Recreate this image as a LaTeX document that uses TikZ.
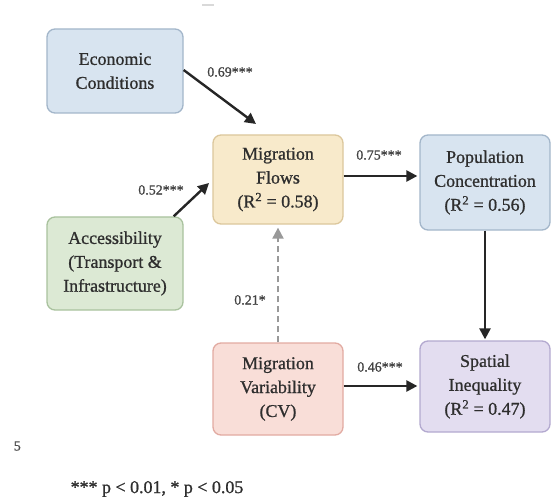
\documentclass[tikz,border=0pt]{standalone}
\usepackage{fontspec}
\setmainfont{Liberation Serif}
\newfontfamily\heavyserif{Liberation Serif}[FakeBold=0.9]
\usetikzlibrary{arrows.meta,calc}
\definecolor{txt}{HTML}{2E2E2E}
\definecolor{bluef}{HTML}{D8E4F0}\definecolor{blued}{HTML}{A3B6CA}
\definecolor{yelf}{HTML}{F8EACB}\definecolor{yeld}{HTML}{DCC79C}
\definecolor{grnf}{HTML}{DCE9D4}\definecolor{grnd}{HTML}{A9C29E}
\definecolor{redf}{HTML}{F9DED8}\definecolor{redd}{HTML}{E2ABA2}
\definecolor{purf}{HTML}{E3DDF0}\definecolor{purd}{HTML}{B3A9CF}
\begin{document}
\begin{tikzpicture}[x=1bp,y=-1bp,
  box/.style={draw, line width=1.3bp, rounded corners=8bp, align=center, text=txt,
    font=\heavyserif\fontsize{18}{24}\selectfont, inner sep=0pt},
  arr/.style={line width=2.4bp, draw=black!85, -{Triangle[length=11bp,width=11bp]}},
  darr/.style={line width=2bp, draw=black!40, dash pattern=on 6bp off 4bp, -{Triangle[length=11bp,width=11bp]}},
  lab/.style={text=txt!90, font=\heavyserif\fontsize{14}{16}\selectfont, inner sep=0pt}]
\useasboundingbox[fill=white] (0,0) rectangle (558,499);
\node[box, fill=bluef, draw=blued, minimum width=136bp, minimum height=84bp] (econ) at (115,71) {Economic\\Conditions};
\node[box, fill=yelf, draw=yeld, minimum width=130bp, minimum height=89bp] (flows) at (278,179.5) {Migration\\Flows\\(R\textsuperscript{2} = 0.58)};
\node[box, fill=bluef, draw=blued, minimum width=130bp, minimum height=95bp] (pop) at (485,182.5) {Population\\Concentration\\(R\textsuperscript{2} = 0.56)};
\node[box, fill=grnf, draw=grnd, minimum width=136bp, minimum height=93bp] (acc) at (115,263.5) {Accessibility\\(Transport \&\\Infrastructure)};
\node[box, fill=redf, draw=redd, minimum width=130bp, minimum height=92bp] (var) at (278,389) {Migration\\Variability\\(CV)};
\node[box, fill=purf, draw=purd, minimum width=130bp, minimum height=91bp] (spat) at (485,386.5) {Spatial\\Inequality\\(R\textsuperscript{2} = 0.47)};
\coordinate (f1) at (256,124);
\coordinate (f2) at (209,183);
\draw[arr] ($(econ.east)+(0,-1)$) -- (f1);
\draw[arr] ($(acc.north east)+(-10,0)$) -- (f2);
\draw[arr] ($(flows.east)+(0,-3.5)$) -- ($(pop.west)+(-2,-6.5)$);
\draw[arr] (pop.south) -- ($(spat.north)+(0,-1)$);
\draw[arr] ($(var.east)+(0,-3)$) -- ($(spat.west)+(-2,-0.5)$);
\draw[darr] (var.north) -- ($(flows.south)+(0,3)$);
\node[lab] (l1) at (230,72) {0.69***};
\node[lab] (l2) at (161,190) {0.52***};
\node[lab] (l3) at (379,155) {0.75***};
\node[lab] (l4) at (380,367) {0.46***};
\node[lab] (l5) at (250,300) {0.21*};
\node[lab, font=\heavyserif\fontsize{18}{20}\selectfont, text=txt] (note) at (157,489) {*** p < 0.01, * p < 0.05};
\begin{scope}
\clip (13,430) rectangle (30,460);
\node[lab, anchor=east, text=black!70] (frag) at (21,446) {5};
\end{scope}
\draw[black!15, line width=1.5bp] (202,5) -- (214,5);
\end{tikzpicture}
\end{document}
